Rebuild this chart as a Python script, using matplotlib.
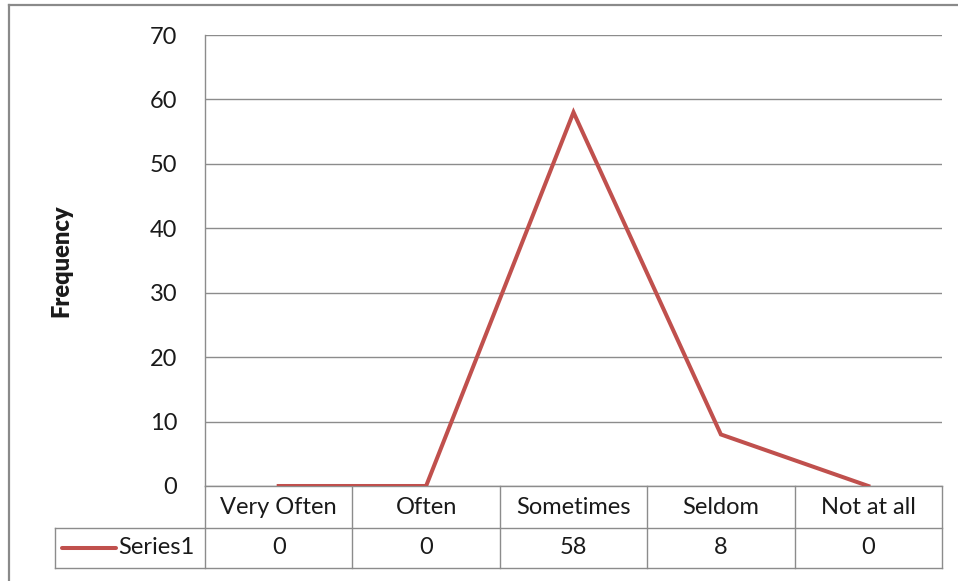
import matplotlib

matplotlib.use("Agg")
import matplotlib.pyplot as plt
from matplotlib.lines import Line2D

categories = ["Very Often", "Often", "Sometimes", "Seldom", "Not at all"]
frequency = [0, 0, 58, 8, 0]
series_name = "Series1"
y_ticks = [0, 10, 20, 30, 40, 50, 60, 70]

W, H = 958, 581
LINE = "#C0504D"
GRID = "#8c8c8c"
TEXT = "#1a1a1a"
FS = 17
plt.rcParams["font.family"] = ["Lato", "DejaVu Sans"]

fig = plt.figure(figsize=(W / 100, H / 100), dpi=100)

# plot area in pixels: left, right, top, bottom
px_l, px_r, px_t, px_b = 205, 942, 35, 486
ax = fig.add_axes([px_l / W, 1 - px_b / H, (px_r - px_l) / W, (px_b - px_t) / H])

x = list(range(len(categories)))
ax.plot(x, frequency, color=LINE, lw=2.9, solid_joinstyle="miter", zorder=3)
ax.set_xlim(-0.5, len(categories) - 0.5)
ax.set_ylim(0, 70)
ax.set_yticks(y_ticks)
ax.set_xticks([])
ax.tick_params(axis="y", length=0, pad=20, labelsize=FS, labelcolor=TEXT)
ax.grid(axis="y", color=GRID, lw=1.0)
ax.set_axisbelow(True)
for side in ("top", "right"):
    ax.spines[side].set_visible(False)
for side in ("left", "bottom"):
    ax.spines[side].set_color(GRID)
    ax.spines[side].set_linewidth(1.0)
ax.set_ylabel("Frequency", fontsize=FS, fontweight="heavy", color=TEXT, labelpad=0)
ax.yaxis.set_label_coords((72 - px_l) / (px_r - px_l), 0.5)

# data table under the plot, in axes coordinates
def ay(py):
    return (px_b - py) / (px_b - px_t)

def axx(px):
    return (px - px_l) / (px_r - px_l)

row1, row2 = ay(528), ay(568)
kw = dict(transform=ax.transAxes, clip_on=False, color=GRID, lw=1.0)
ax.add_line(Line2D([axx(55), 1], [row1, row1], **kw))
ax.add_line(Line2D([axx(55), 1], [row2, row2], **kw))
ax.add_line(Line2D([axx(55), axx(55)], [row1, row2], **kw))
n = len(categories)
for i in range(n + 1):
    ax.add_line(Line2D([i / n, i / n], [0, row2], **kw))

for i, (cat, val) in enumerate(zip(categories, frequency)):
    cx = (i + 0.5) / n
    ax.text(cx, (0 + row1) / 2, cat, transform=ax.transAxes, ha="center",
            va="center", fontsize=FS, color=TEXT)
    ax.text(cx, (row1 + row2) / 2, str(val), transform=ax.transAxes,
            ha="center", va="center", fontsize=FS, color=TEXT)

ym = (row1 + row2) / 2
ax.add_line(Line2D([axx(62), axx(116)], [ym, ym], transform=ax.transAxes,
                   clip_on=False, color=LINE, lw=2.9, solid_capstyle="round"))
ax.text(axx(118), ym, series_name, transform=ax.transAxes, ha="left",
        va="center", fontsize=FS, color=TEXT)

# outer chart border (only top and left edges fall inside the image)
bx, by = 9 / W, 1 - 5 / H
fig.add_artist(Line2D([bx, bx], [0, by], transform=fig.transFigure,
                      color="#8a8a8a", lw=1.6))
fig.add_artist(Line2D([bx, 1], [by, by], transform=fig.transFigure,
                      color="#8a8a8a", lw=1.6))

fig.savefig("out.png", dpi=100)
